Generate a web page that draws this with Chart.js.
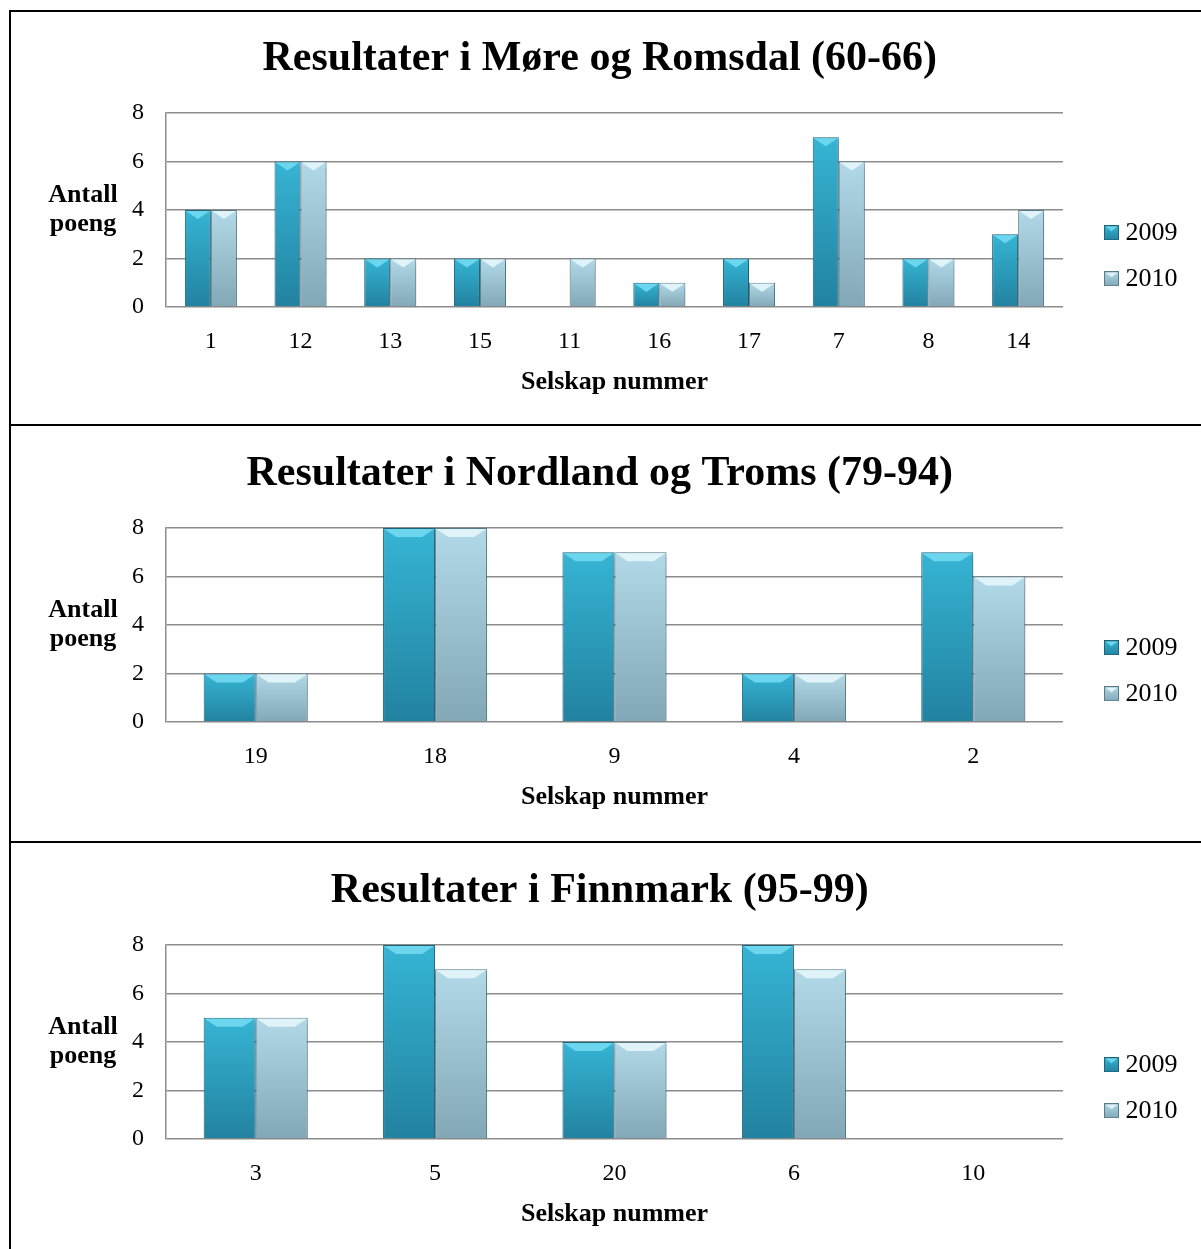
<!DOCTYPE html>
<html>
<head>
<meta charset="utf-8">
<script src="https://cdn.jsdelivr.net/npm/chart.js@4.4.1/dist/chart.umd.min.js"></script>
<style>
html,body{margin:0;padding:0;background:#fff;overflow:hidden;width:1201px;height:1249px;}
.wrap{position:absolute;left:12px;width:1189px;height:412px;}
.line{position:absolute;background:#000;}
</style>
</head>
<body>
<div class="line" style="left:9px;top:10px;width:2px;height:1239px"></div>
<div class="line" style="left:9px;top:10px;width:1192px;height:2px"></div>
<div class="line" style="left:9px;top:424px;width:1192px;height:2px"></div>
<div class="line" style="left:9px;top:841px;width:1192px;height:2px"></div>
<div class="wrap" style="top:12px"><canvas id="chart1"></canvas></div>
<div class="wrap" style="top:427px"><canvas id="chart2"></canvas></div>
<div class="wrap" style="top:844px"><canvas id="chart3"></canvas></div>
<script>
// ---- data ----
const seriesLabels = ['2009', '2010'];

const title1 = 'Resultater i Møre og Romsdal (60-66)';
const categories1 = ['1', '12', '13', '15', '11', '16', '17', '7', '8', '14'];
const values2009_1 = [4, 6, 2, 2, null, 1, 2, 7, 2, 3];
const values2010_1 = [4, 6, 2, 2, 2, 1, 1, 6, 2, 4];

const title2 = 'Resultater i Nordland og Troms (79-94)';
const categories2 = ['19', '18', '9', '4', '2'];
const values2009_2 = [2, 8, 7, 2, 7];
const values2010_2 = [2, 8, 7, 2, 6];

const title3 = 'Resultater i Finnmark (95-99)';
const categories3 = ['3', '5', '20', '6', '10'];
const values2009_3 = [5, 8, 4, 8, null];
const values2010_3 = [5, 7, 4, 7, null];

const yAxisLines = ['Antall', 'poeng'];
const xAxisTitle = 'Selskap nummer';
const yMin = 0, yMax = 8, yStep = 2;

// ---- styling ----
const FONT = '"Liberation Serif", "Times New Roman", Times, serif';
Chart.defaults.font.family = FONT;
Chart.defaults.color = '#000';
Chart.defaults.animation = false;

const COLORS = {
  '2009': {top: '#36b4d4', bottom: '#2282a0', border: '#1d6479', bevel: '#6cd6ee'},
  '2010': {top: '#b2d9e7', bottom: '#82a8b7', border: '#587c8a', bevel: '#dff3f9'}
};
const GRID = '#8c8c8c';

function barFill(key) {
  return (c) => {
    const ch = c.chart, ca = ch.chartArea, col = COLORS[key];
    if (!ca || c.raw == null) return col.top;
    const ys = ch.scales.y;
    const t = ys.getPixelForValue(c.raw), b = ys.getPixelForValue(0);
    const g = ch.ctx.createLinearGradient(0, t, 0, b);
    g.addColorStop(0, col.top);
    g.addColorStop(1, col.bottom);
    return g;
  };
}

function marker(key) {
  const s = 15;
  const cv = document.createElement('canvas');
  cv.width = s; cv.height = s;
  const x = cv.getContext('2d');
  const col = COLORS[key];
  const g = x.createLinearGradient(0, 0, 0, s);
  g.addColorStop(0, col.top); g.addColorStop(1, col.bottom);
  x.fillStyle = g; x.fillRect(0, 0, s, s);
  x.fillStyle = col.bevel;
  x.beginPath(); x.moveTo(0, 0); x.lineTo(s, 0); x.lineTo(s / 2, 6); x.closePath(); x.fill();
  x.strokeStyle = col.border; x.lineWidth = 1; x.strokeRect(0.5, 0.5, s - 1, s - 1);
  return cv;
}
const MARKERS = {'2009': marker('2009'), '2010': marker('2010')};

const bevelPlugin = {
  id: 'bevel',
  beforeDatasetsDraw(chart) {
    const c = chart.ctx;
    c.save();
    c.shadowColor = 'rgba(0,0,0,0.25)';
    c.shadowBlur = 5; c.shadowOffsetX = 2; c.shadowOffsetY = 3;
  },
  afterDatasetsDraw(chart) {
    const c = chart.ctx;
    c.restore();
    chart.data.datasets.forEach((ds, i) => {
      const meta = chart.getDatasetMeta(i);
      const col = COLORS[ds.label];
      meta.data.forEach((el, j) => {
        if (ds.data[j] == null) return;
        const {x, y, width} = el.getProps(['x', 'y', 'width'], true);
        const l = x - width / 2 + 1, r = x + width / 2 - 1;
        const inset = Math.min((r - l) / 2, 12);
        c.save();
        c.fillStyle = col.bevel;
        c.beginPath();
        c.moveTo(l, y + 1); c.lineTo(r, y + 1);
        c.lineTo(r - inset, y + 9); c.lineTo(l + inset, y + 9);
        c.closePath(); c.fill();
        c.restore();
      });
    });
  }
};

const yTitlePlugin = {
  id: 'yTitle',
  afterDraw(chart) {
    const c = chart.ctx, ca = chart.chartArea;
    const cy = (ca.top + ca.bottom) / 2;
    c.save();
    c.font = 'bold 26px ' + FONT;
    c.fillStyle = '#000';
    c.textAlign = 'center';
    c.textBaseline = 'middle';
    const lh = 29;
    yAxisLines.forEach((t, i) => c.fillText(t, 71, cy + (i - (yAxisLines.length - 1) / 2) * lh));
    c.restore();
  }
};

function makeChart(id, title, labels, d09, d10) {
  new Chart(document.getElementById(id), {
    type: 'bar',
    data: {
      labels: labels,
      datasets: [
        {label: seriesLabels[0], data: d09, backgroundColor: barFill('2009'), borderColor: COLORS['2009'].border, borderWidth: 1},
        {label: seriesLabels[1], data: d10, backgroundColor: barFill('2010'), borderColor: COLORS['2010'].border, borderWidth: 1}
      ]
    },
    plugins: [bevelPlugin, yTitlePlugin],
    options: {
      responsive: true,
      maintainAspectRatio: false,
      layout: {padding: {left: 0, right: 13.5, top: 0, bottom: 0}},
      datasets: {bar: {categoryPercentage: 0.58, barPercentage: 1.0}},
      plugins: {
        tooltip: {enabled: false},
        title: {
          display: true, text: title, color: '#000',
          font: {size: 42, weight: 'bold'},
          padding: {top: 22.3, bottom: 28.3}
        },
        legend: {
          position: 'right',
          title: {display: true, text: '', padding: {top: 0, bottom: 61}},
          labels: {
            color: '#000',
            font: {size: 26},
            padding: 20,
            usePointStyle: true,
            pointStyleWidth: 2,
            generateLabels(chart) {
              const items = Chart.defaults.plugins.legend.labels.generateLabels(chart);
              items.forEach(it => { it.pointStyle = MARKERS[chart.data.datasets[it.datasetIndex].label]; });
              return items;
            }
          }
        }
      },
      scales: {
        x: {
          grid: {display: false},
          border: {display: false},
          ticks: {font: {size: 24}, padding: 12, maxRotation: 0, autoSkip: false, color: '#000'},
          title: {display: true, text: xAxisTitle, font: {size: 26, weight: 'bold'}, color: '#000', padding: {top: 0, bottom: 26.4}},
          afterFit(s) { s.height = 117; }
        },
        y: {
          min: yMin, max: yMax,
          ticks: {stepSize: yStep, font: {size: 24}, padding: 22, color: '#000'},
          grid: {color: GRID, lineWidth: 1.5, drawTicks: false},
          border: {display: true, color: GRID, width: 1.5},
          afterFit(s) { s.width = 154; }
        },
        yPad: {
          type: 'linear', position: 'right', display: true,
          grid: {display: false}, border: {display: false}, ticks: {display: false},
          afterFit(s) { s.width = 27.5; }
        }
      }
    }
  });
}

makeChart('chart1', title1, categories1, values2009_1, values2010_1);
makeChart('chart2', title2, categories2, values2009_2, values2010_2);
makeChart('chart3', title3, categories3, values2009_3, values2010_3);
</script>
</body>
</html>
